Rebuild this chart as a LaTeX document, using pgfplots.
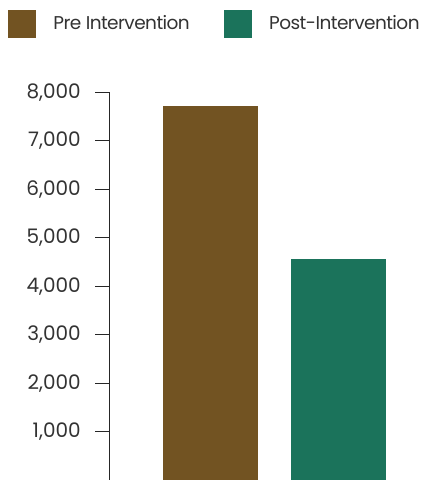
\documentclass[border=0pt]{standalone}
\usepackage{fontspec}
\setmainfont{Poppins}
\usepackage{pgfplots}
\pgfplotsset{compat=1.18}
\definecolor{prec}{HTML}{725322}
\definecolor{postc}{HTML}{1B735B}
\definecolor{txt}{HTML}{333333}
\begin{document}
\fontsize{19bp}{22bp}\selectfont
\begin{tikzpicture}
\begin{axis}[
  scale only axis,
  width=326.7bp, height=387.6bp,
  xmin=-0.794, xmax=1.764,
  ymin=0, ymax=8000,
  axis x line=none,
  axis y line=left,
  y axis line style={-, line width=1bp, color=black!85},
  ytick={1000,2000,...,8000},
  tick align=outside,
  major tick length=14bp,
  ytick style={line width=1bp, color=black!85},
  yticklabel style={text=txt, font=\fontsize{20bp}{22bp}\selectfont, xshift=-8bp},
  /pgf/number format/1000 sep={,},
  /pgf/number format/assume math mode=true,
  scaled y ticks=false,
  clip=false,
  legend columns=4,
  legend style={
    at={(axis description cs:0,1)}, anchor=north west,
    xshift=-101.3bp, yshift=82.5bp,
    draw=none, fill=none, inner sep=0pt, outer sep=0pt,
    font=\fontsize{18.5bp}{22bp}\selectfont\addfontfeatures{LetterSpace=-3}, text=txt,
    nodes={inner sep=0pt, anchor=west},
    /tikz/every odd column/.append style={column sep=18bp},
    /tikz/every even column/.append style={column sep=34bp},
  },
]
\addplot[ybar, bar width=94.7bp, bar shift=0pt, fill=prec, draw=none, forget plot] coordinates {(0,7720)};
\addplot[ybar, bar width=94.7bp, bar shift=0pt, fill=postc, draw=none, forget plot] coordinates {(1,4560)};
\addlegendimage{legend image code/.code={\fill[prec] (0bp,-13.5bp) rectangle (27bp,13.5bp);}}
\addlegendentry{Pre Intervention}
\addlegendimage{legend image code/.code={\fill[postc] (0bp,-13.5bp) rectangle (27bp,13.5bp);}}
\addlegendentry{Post-Intervention}
\end{axis}
\pgfresetboundingbox
\path[use as bounding box] (current axis.south west) ++(-109.3bp,0bp) rectangle ++(436bp,480bp);
\end{tikzpicture}
\end{document}
